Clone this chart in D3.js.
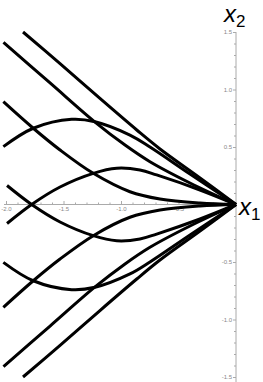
<!DOCTYPE html>
<html>
<head>
<meta charset="utf-8">
<script src="https://cdn.jsdelivr.net/npm/d3@7.9.0/dist/d3.min.js"></script>
<style>
  body { margin: 0; background: #fff; }
  svg { display: block; }
  .tick text { font-family: "Liberation Sans", Arial, sans-serif; font-size: 6px; fill: #888; }
  .lbl { font-family: "Liberation Sans", Arial, sans-serif; fill: #000; }
</style>
</head>
<body>
<svg width="263" height="382"></svg>
<script>
// tick values
const x1Ticks = [-2, -1.5, -1, -0.5];
const x2Ticks = [-1.5, -1, -0.5, 0.5, 1, 1.5];

// trajectories, [x1, x2]
const lineA = [[-1.852, 1.5], [-1.53, 1.225], [-1.183, 0.922], [-0.863, 0.648], [-0.661, 0.483], [-0.313, 0.231], [0, 0]];
const lineB = [[-2.022, 1.409], [-1.617, 1.057], [-1.226, 0.717], [-0.965, 0.517], [-0.748, 0.372], [-0.4, 0.187], [0, 0]];
const lineC = [[-2.023, 0.894], [-1.763, 0.663], [-1.53, 0.474], [-1.241, 0.271], [-0.922, 0.111], [-0.661, 0.048], [-0.313, 0.013], [0, 0]];
const hump1 = [[-2.023, 0.503], [-1.763, 0.663], [-1.429, 0.741], [-1.226, 0.72], [-0.922, 0.604], [-0.748, 0.5], [-0.4, 0.265], [0, 0]];
const hump2 = [[-1.991, -0.165], [-1.777, 0], [-1.53, 0.152], [-1.241, 0.271], [-1.037, 0.315], [-0.835, 0.3], [-0.69, 0.257], [-0.313, 0.126], [0, 0]];

const lineAm = [[-1.852, -1.5], [-1.53, -1.225], [-1.183, -0.922], [-0.863, -0.648], [-0.661, -0.483], [-0.313, -0.231], [0, 0]];
const lineBm = [[-2.022, -1.409], [-1.617, -1.057], [-1.226, -0.717], [-0.965, -0.517], [-0.748, -0.372], [-0.4, -0.187], [0, 0]];
const lineCm = [[-2.023, -0.894], [-1.763, -0.663], [-1.53, -0.474], [-1.241, -0.271], [-0.922, -0.111], [-0.661, -0.048], [-0.313, -0.013], [0, 0]];
const hump1m = [[-2.023, -0.503], [-1.763, -0.663], [-1.429, -0.741], [-1.226, -0.72], [-0.922, -0.604], [-0.748, -0.5], [-0.4, -0.265], [0, 0]];
const hump2m = [[-1.991, 0.165], [-1.777, 0], [-1.53, -0.152], [-1.241, -0.271], [-1.037, -0.315], [-0.835, -0.3], [-0.69, -0.257], [-0.313, -0.126], [0, 0]];

const curves = [lineA, lineB, lineC, hump1, hump2, lineAm, lineBm, lineCm, hump1m, hump2m];

const svg = d3.select('svg');
const x = d3.scaleLinear().domain([-2, 0]).range([6, 236]);
const y = d3.scaleLinear().domain([1.5, -1.5]).range([32, 377]);

const axisColor = '#aaa';

// x1 axis
svg.append('line')
  .attr('x1', 4).attr('x2', x(0))
  .attr('y1', y(0)).attr('y2', y(0))
  .attr('stroke', axisColor).attr('stroke-width', 1);

const minorX = d3.range(-20, 0).map(d => d / 10).filter(d => !x1Ticks.some(t => Math.abs(t - d) < 1e-9));
svg.append('g')
  .attr('transform', `translate(0,${y(0)})`)
  .call(d3.axisBottom(x).tickValues(minorX).tickSize(-2).tickSizeOuter(0).tickFormat(''))
  .call(g => g.select('.domain').remove())
  .call(g => g.selectAll('line').attr('stroke', axisColor));
svg.append('g')
  .attr('transform', `translate(0,${y(0)})`)
  .call(d3.axisBottom(x).tickValues(x1Ticks).tickSize(-3.5).tickSizeOuter(0).tickPadding(2.5).tickFormat(d => d.toFixed(1)))
  .call(g => g.select('.domain').remove())
  .call(g => g.selectAll('line').attr('stroke', axisColor));

// x2 axis
svg.append('line')
  .attr('x1', x(0)).attr('x2', x(0))
  .attr('y1', y(1.5)).attr('y2', 382)
  .attr('stroke', axisColor).attr('stroke-width', 1);

const minorY = d3.range(-15, 16).map(d => d / 10).filter(d => d !== 0 && !x2Ticks.some(t => Math.abs(t - d) < 1e-9));
svg.append('g')
  .attr('transform', `translate(${x(0)},0)`)
  .call(d3.axisLeft(y).tickValues(minorY).tickSize(2).tickSizeOuter(0).tickFormat(''))
  .call(g => g.select('.domain').remove())
  .call(g => g.selectAll('line').attr('stroke', axisColor));
svg.append('g')
  .attr('transform', `translate(${x(0)},0)`)
  .call(d3.axisLeft(y).tickValues(x2Ticks).tickSize(3).tickSizeOuter(0).tickPadding(1).tickFormat(d => d.toFixed(1)))
  .call(g => g.select('.domain').remove())
  .call(g => g.selectAll('line').attr('stroke', axisColor));

// trajectories
const line = d3.line()
  .x(d => x(d[0]))
  .y(d => y(d[1]))
  .curve(d3.curveCatmullRom.alpha(0.5));

svg.append('g')
  .selectAll('path')
  .data(curves)
  .join('path')
  .attr('d', line)
  .attr('fill', 'none')
  .attr('stroke', '#000')
  .attr('stroke-width', 3)
  .attr('stroke-linejoin', 'round');

// axis labels
const l1 = svg.append('text').attr('class', 'lbl').attr('x', 239).attr('y', 215);
l1.append('tspan').attr('font-style', 'italic').attr('font-size', 24).text('x');
l1.append('tspan').attr('font-size', 17).attr('dy', 5).text('1');

const l2 = svg.append('text').attr('class', 'lbl').attr('x', 224).attr('y', 22);
l2.append('tspan').attr('font-style', 'italic').attr('font-size', 24).text('x');
l2.append('tspan').attr('font-size', 17).attr('dy', 5).text('2');
</script>
</body>
</html>
